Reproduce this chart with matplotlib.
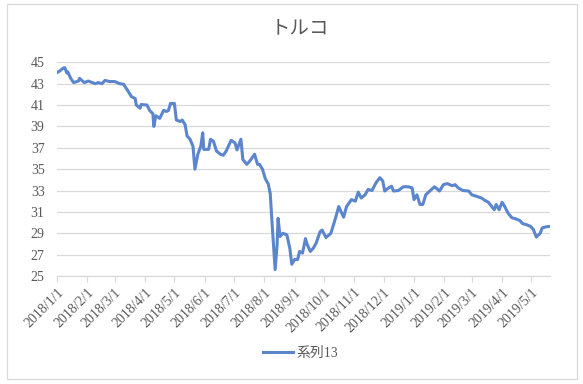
import matplotlib
matplotlib.use("Agg")
import matplotlib.pyplot as plt
import pandas as pd
from matplotlib.patches import Rectangle

title = "トルコ"
series_name = "系列13"

dates = [
    "2018-01-01", "2018-01-04", "2018-01-07", "2018-01-09", "2018-01-11", "2018-01-12",
    "2018-01-15", "2018-01-18", "2018-01-23", "2018-01-24", "2018-01-29", "2018-02-02",
    "2018-02-09", "2018-02-12", "2018-02-16", "2018-02-19", "2018-02-24", "2018-03-01",
    "2018-03-06", "2018-03-10", "2018-03-15", "2018-03-18", "2018-03-22", "2018-03-23",
    "2018-03-27", "2018-03-28", "2018-04-03", "2018-04-06", "2018-04-09", "2018-04-10",
    "2018-04-12", "2018-04-16", "2018-04-20", "2018-04-23", "2018-04-25", "2018-04-27",
    "2018-05-01", "2018-05-03", "2018-05-07", "2018-05-09", "2018-05-12", "2018-05-14",
    "2018-05-17", "2018-05-20", "2018-05-22", "2018-05-25", "2018-05-28", "2018-05-30",
    "2018-05-31", "2018-06-05", "2018-06-07", "2018-06-10", "2018-06-13", "2018-06-17",
    "2018-06-20", "2018-06-23", "2018-06-28", "2018-07-02", "2018-07-04", "2018-07-08",
    "2018-07-10", "2018-07-14", "2018-07-17", "2018-07-22", "2018-07-25", "2018-07-27",
    "2018-07-30", "2018-08-02", "2018-08-05", "2018-08-07", "2018-08-09", "2018-08-12",
    "2018-08-14", "2018-08-15", "2018-08-17", "2018-08-20", "2018-08-24", "2018-08-27",
    "2018-08-29", "2018-09-01", "2018-09-04", "2018-09-06", "2018-09-09", "2018-09-12",
    "2018-09-14", "2018-09-17", "2018-09-20", "2018-09-23", "2018-09-27", "2018-09-29",
    "2018-10-03", "2018-10-08", "2018-10-11", "2018-10-13", "2018-10-16", "2018-10-21",
    "2018-10-24", "2018-10-29", "2018-11-02", "2018-11-05", "2018-11-08", "2018-11-12",
    "2018-11-15", "2018-11-19", "2018-11-23", "2018-11-27", "2018-11-30", "2018-12-02",
    "2018-12-06", "2018-12-09", "2018-12-11", "2018-12-16", "2018-12-21", "2018-12-26",
    "2018-12-30", "2019-01-01", "2019-01-04", "2019-01-07", "2019-01-10", "2019-01-13",
    "2019-01-17", "2019-01-22", "2019-01-27", "2019-01-31", "2019-02-04", "2019-02-09",
    "2019-02-12", "2019-02-15", "2019-02-20", "2019-02-26", "2019-03-01", "2019-03-06",
    "2019-03-11", "2019-03-14", "2019-03-18", "2019-03-21", "2019-03-24", "2019-03-26",
    "2019-03-29", "2019-04-01", "2019-04-04", "2019-04-07", "2019-04-11", "2019-04-15",
    "2019-04-19", "2019-04-22", "2019-04-26", "2019-04-30", "2019-05-03", "2019-05-06",
    "2019-05-10", "2019-05-12", "2019-05-16", "2019-05-20",
]

values = [
    44.03, 44.2, 44.44, 44.5, 44.0, 44.1,
    43.5, 43.1, 43.25, 43.5, 43.1, 43.25,
    43.0, 43.1, 43.0, 43.3, 43.2, 43.2,
    43.0, 42.95, 42.25, 41.8, 41.6, 41.0,
    40.7, 41.05, 41.0, 40.45, 40.2, 39.0,
    40.0, 39.75, 40.5, 40.4, 40.5, 41.15,
    41.15, 39.6, 39.46, 39.6, 39.15, 38.1,
    37.8, 37.15, 35.0, 36.4, 37.15, 38.4,
    36.85, 36.85, 37.8, 37.6, 36.7, 36.4,
    36.3, 36.7, 37.7, 37.45, 36.8, 37.8,
    35.9, 35.45, 35.75, 36.4, 35.45, 35.45,
    35.0, 34.1, 33.6, 32.7, 29.75, 25.6,
    27.9, 30.4, 28.7, 29.0, 28.85, 27.6,
    26.1, 26.55, 26.55, 27.3, 27.15, 28.5,
    27.9, 27.3, 27.6, 28.1, 29.15, 29.3,
    28.6, 29.0, 29.9, 30.5, 31.5, 30.5,
    31.5, 32.15, 32.0, 32.85, 32.3, 32.6,
    33.1, 33.0, 33.7, 34.2, 33.9, 32.95,
    33.25, 33.4, 32.95, 33.0, 33.35, 33.35,
    33.25, 32.15, 32.6, 31.7, 31.7, 32.6,
    32.95, 33.35, 32.95, 33.55, 33.65, 33.45,
    33.55, 33.25, 33.0, 32.95, 32.6, 32.45,
    32.3, 32.1, 31.9, 31.55, 31.2, 31.7,
    31.2, 31.9, 31.45, 30.9, 30.45, 30.35,
    30.2, 29.9, 29.8, 29.65, 29.35, 28.65,
    29.0, 29.5, 29.6, 29.65,
]

tick_dates = pd.date_range("2018-01-01", "2019-05-01", freq="MS")
tick_labels = [f"{d.year}/{d.month}/{d.day}" for d in tick_dates]
y_ticks = list(range(25, 46, 2))

x = pd.to_datetime(dates)

fig = plt.figure(figsize=(5.83, 3.84), dpi=100)
W, H = 583, 384
ax = fig.add_axes([57 / W, 1 - 276 / H, (550 - 57) / W, (276 - 62.3) / H])

line_color = "#5B85CC"
ax.plot(x, values, color=line_color, linewidth=2.2, solid_joinstyle="round",
        label=series_name)

ax.set_ylim(25, 45)
ax.set_yticks(y_ticks)
ax.set_xlim(pd.Timestamp("2018-01-01"), pd.Timestamp("2019-05-20"))
ax.set_xticks(tick_dates)
ax.set_xticklabels(tick_labels, rotation=45, ha="right", rotation_mode="anchor")

ax.grid(axis="y", color="#D9D9D9", linewidth=0.9)
ax.set_axisbelow(True)
for s in ["top", "right", "left"]:
    ax.spines[s].set_visible(False)
ax.spines["bottom"].set_color("#D9D9D9")
ax.spines["bottom"].set_linewidth(0.9)
ax.tick_params(axis="y", length=0, pad=9, labelsize=10, labelcolor="#595959")
ax.tick_params(axis="x", length=4, color="#D9D9D9", width=0.9, pad=3,
               labelsize=10, labelcolor="#595959")
for lab in ax.get_xticklabels() + ax.get_yticklabels():
    lab.set_family(["Liberation Serif", "Noto Sans CJK JP"])

fig.text(0.515, 1 - 28 / H, title, ha="center", va="center", fontsize=14,
         color="#595959", family=["Noto Sans CJK JP", "DejaVu Sans"])

leg = fig.legend(loc="center", bbox_to_anchor=(0.515, 1 - 353 / H), frameon=False,
                 handlelength=2.2, handletextpad=0.2,
                 prop={"family": ["Liberation Serif", "Noto Sans CJK JP"], "size": 10})
for t in leg.get_texts():
    t.set_color("#595959")

fig.patches.append(Rectangle((7 / W, 1 - 379 / H), 570 / W, 375 / H,
                             transform=fig.transFigure, fill=False,
                             edgecolor="#D9D9D9", linewidth=0.9))

fig.savefig("out.png", dpi=100)
